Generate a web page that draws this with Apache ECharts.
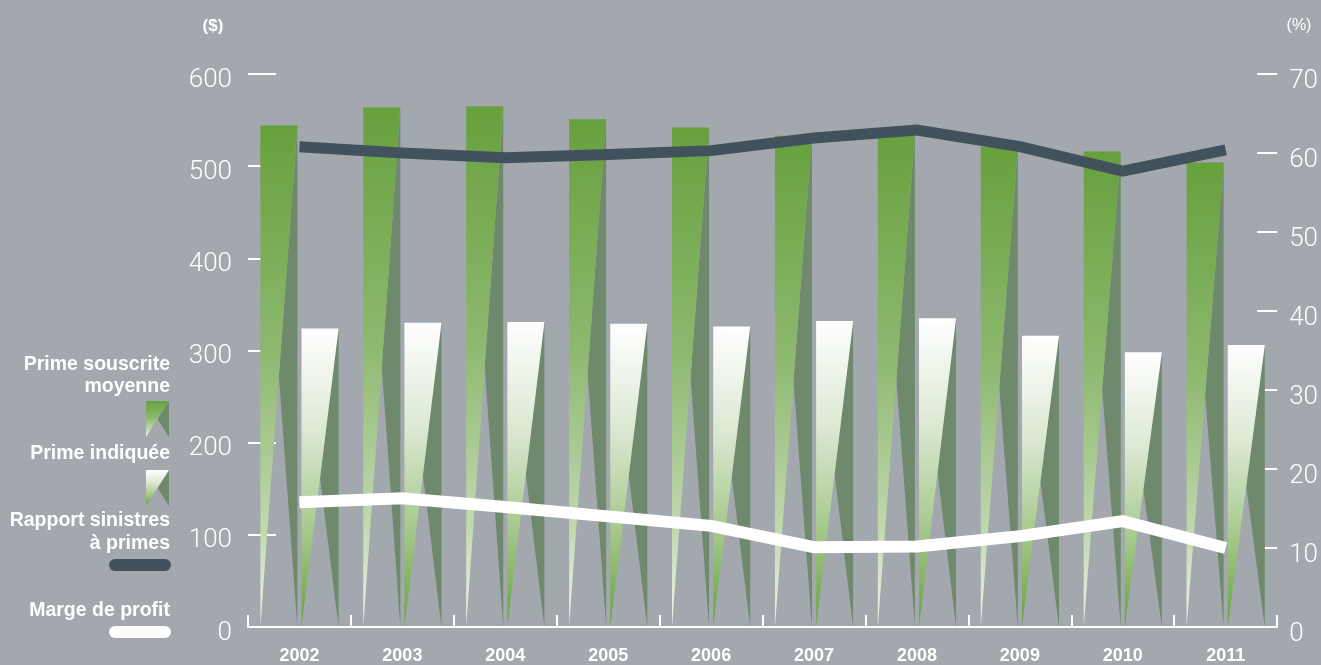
<!DOCTYPE html>
<html>
<head>
<meta charset="utf-8">
<script src="https://cdn.jsdelivr.net/npm/echarts@6/dist/echarts.min.js"></script>
<style>
  html, body { margin: 0; padding: 0; background: #a2a8ae; }
  #chart { width: 1321px; height: 665px; }
</style>
</head>
<body>
<div id="chart"></div>
<script>
// Years on the category axis
const years = ['2002', '2003', '2004', '2005', '2006', '2007', '2008', '2009', '2010', '2011'];
// Prime souscrite moyenne ($)
const avgWrittenPremium = [544, 564, 565, 551, 542, 533, 537, 521, 516, 504];
// Prime indiquée ($)
const quotedPremium = [324, 330, 331, 329, 326, 332, 335, 316, 298, 306];
// Rapport sinistres à primes (%)
const lossRatio = [60.8, 60.0, 59.4, 59.8, 60.3, 61.9, 62.9, 60.8, 57.7, 60.4];
// Marge de profit (%)
const profitMargin = [15.8, 16.3, 15.2, 14.0, 12.8, 10.1, 10.2, 11.5, 13.4, 10.0];

// Axis ranges
const dollarAxis = { min: 0, max: 600, interval: 100 };
const percentAxis = { min: 0, max: 70, interval: 10 };

const BG = '#a2a8ae';
const SHADOW = '#6e896b';
const LINE_DARK = '#42525d';

const greenFill = {
  type: 'linear', x: 0, y: 0, x2: 0, y2: 1,
  colorStops: [
    { offset: 0, color: '#67a03d' },
    { offset: 0.45, color: '#8db86f' },
    { offset: 0.8, color: '#c0d8ae' },
    { offset: 1, color: '#eff4ec' }
  ]
};
const whiteFill = {
  type: 'linear', x: 0, y: 0, x2: 0, y2: 1,
  colorStops: [
    { offset: 0, color: '#ffffff' },
    { offset: 0.35, color: '#dbe8d2' },
    { offset: 0.7, color: '#a2c687' },
    { offset: 1, color: '#66a33c' }
  ]
};

// A "pennant" bar: gradient triangle on the left, shaded wedge on the right
function pennant(x, w, yTop, yBase, fill) {
  const mid = (yTop + yBase) / 2;
  return [
    { type: 'polygon', shape: { points: [[x + w, yTop], [x + w / 2, mid], [x + w, yBase]] },
      style: { fill: SHADOW } },
    { type: 'polygon', shape: { points: [[x, yTop], [x + w, yTop], [x, yBase]] },
      style: { fill: fill } }
  ];
}

function makeRenderer(side, fill) {
  return function (params, api) {
    const cat = api.value(0);
    const val = api.value(1);
    const top = api.coord([cat, val]);
    const base = api.coord([cat, 0]);
    const band = api.size([1, 0])[0];
    const w = band * 0.36;
    const gap = band * 0.04;
    const x = side < 0 ? top[0] - gap / 2 - w : top[0] + gap / 2;
    return { type: 'group', children: pennant(x, w, top[1], base[1], fill) };
  };
}

const legendFont = 'bold 19.5px "Liberation Sans", Arial, sans-serif';
function legendText(text, y) {
  return { type: 'text', x: 170, y: y,
    style: { text: text, font: legendFont, fill: '#fff', align: 'right', verticalAlign: 'middle' } };
}
function legendIcon(y, fill) {
  return { type: 'group', children: pennant(146, 23, y, y + 36, fill) };
}

const chart = echarts.init(document.getElementById('chart'), null, { renderer: 'canvas' });

chart.setOption({
  animation: false,
  backgroundColor: BG,
  grid: { left: 248, right: 43, top: 74, bottom: 37, containLabel: false },
  xAxis: {
    type: 'category',
    data: years,
    boundaryGap: true,
    axisLine: { show: true, lineStyle: { color: '#fff', width: 2 } },
    axisTick: { show: true, inside: true, length: 12, interval: 0, lineStyle: { color: '#fff', width: 2 } },
    axisLabel: { color: '#fff', fontFamily: '"Liberation Sans Narrow", "Liberation Sans", sans-serif',
      fontWeight: 'bold', fontSize: 18, margin: 20 },
    splitLine: { show: false }
  },
  yAxis: [
    {
      type: 'value', position: 'left',
      min: dollarAxis.min, max: dollarAxis.max, interval: dollarAxis.interval,
      axisLine: { show: false },
      axisTick: { show: true, inside: true, length: 28, lineStyle: { color: '#fff', width: 2 } },
      axisLabel: { color: '#fff', fontFamily: 'Roboto, sans-serif', fontWeight: 300, fontSize: 26,
        margin: 16, verticalAlign: 'top', lineHeight: 12 },
      splitLine: { show: false }
    },
    {
      type: 'value', position: 'right',
      min: percentAxis.min, max: percentAxis.max, interval: percentAxis.interval,
      axisLine: { show: false },
      axisTick: { show: true, inside: true, length: 20, lineStyle: { color: '#fff', width: 2 } },
      axisLabel: { color: '#fff', fontFamily: 'Roboto, sans-serif', fontWeight: 300, fontSize: 26,
        margin: 12, verticalAlign: 'top', lineHeight: 14 },
      splitLine: { show: false }
    }
  ],
  series: [
    {
      name: 'Prime souscrite moyenne',
      type: 'custom',
      yAxisIndex: 0,
      data: avgWrittenPremium.map((v, i) => [i, v]),
      encode: { x: 0, y: 1 },
      renderItem: makeRenderer(-1, greenFill),
      z: 2
    },
    {
      name: 'Prime indiquée',
      type: 'custom',
      yAxisIndex: 0,
      data: quotedPremium.map((v, i) => [i, v]),
      encode: { x: 0, y: 1 },
      renderItem: makeRenderer(1, whiteFill),
      z: 2
    },
    {
      name: 'Rapport sinistres à primes',
      type: 'line',
      yAxisIndex: 1,
      data: lossRatio,
      symbol: 'none',
      lineStyle: { color: LINE_DARK, width: 11, cap: 'butt', join: 'miter' },
      z: 5
    },
    {
      name: 'Marge de profit',
      type: 'line',
      yAxisIndex: 1,
      data: profitMargin,
      symbol: 'none',
      lineStyle: { color: '#ffffff', width: 12, cap: 'butt', join: 'miter' },
      z: 5
    }
  ],
  graphic: [
    { type: 'text', x: 213, y: 26,
      style: { text: '($)', font: 'bold 17px "Liberation Sans", Arial, sans-serif', fill: '#fff',
        align: 'center', verticalAlign: 'middle' } },
    { type: 'text', x: 1299, y: 26,
      style: { text: '(%)', font: '16px "Liberation Sans", Arial, sans-serif', fill: '#fff',
        align: 'center', verticalAlign: 'middle' } },
    legendText('Prime souscrite', 365),
    legendText('moyenne', 387),
    legendIcon(401, greenFill),
    legendText('Prime indiquée', 454),
    legendIcon(470, whiteFill),
    legendText('Rapport sinistres', 521),
    legendText('à primes', 544),
    { type: 'rect', shape: { x: 109, y: 559, width: 62, height: 12, r: 6 }, style: { fill: LINE_DARK } },
    legendText('Marge de profit', 611),
    { type: 'rect', shape: { x: 109, y: 626, width: 62, height: 12, r: 6 }, style: { fill: '#ffffff' } }
  ]
});
</script>
</body>
</html>
